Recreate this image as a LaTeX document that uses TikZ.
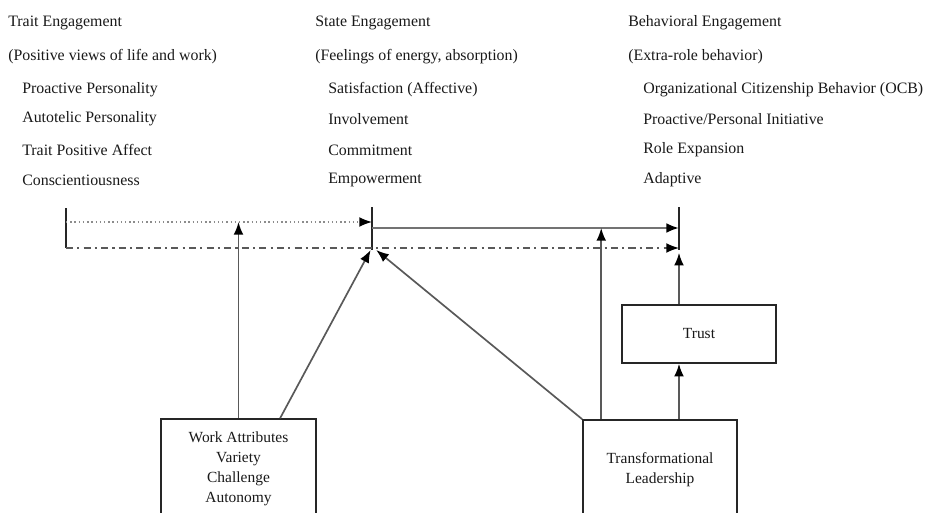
\documentclass[tikz,border=0pt]{standalone}
\usepackage{fontspec}
\setmainfont{Liberation Serif}
\usetikzlibrary{arrows.meta}

\tikzset{
	lbl/.style={anchor=west, inner sep=0pt, text=black!90, font=\fontsize{11.3}{13}\selectfont},
	box/.style={draw=black!85, line width=1.1pt, align=center, text=black!90, font=\fontsize{11}{14.2}\selectfont},
	arr/.style={-{Latex[length=9pt,width=7pt,color=black]}, line width=1.2pt, draw=black!65},
	bar/.style={line width=1.2pt, draw=black!85},
}

\begin{document}
\begin{tikzpicture}[x=0.025cm, y=-0.025cm]
	\useasboundingbox (0,0) rectangle (928,513);
	\clip (0,0) rectangle (928,513);

	% headings and lists
	\node[lbl] (te) at (8,23) {Trait Engagement};
	\node[lbl] (ted) at (8,57) {(Positive views of life and work)};
	\node[lbl] (te1) at (22,90) {Proactive Personality};
	\node[lbl] (te2) at (22,119) {Autotelic Personality};
	\node[lbl] (te3) at (22,150) {Trait Positive Affect};
	\node[lbl] (te4) at (22,180) {Conscientiousness};

	\node[lbl] (se) at (315,23) {State Engagement};
	\node[lbl] (sed) at (315,57) {(Feelings of energy, absorption)};
	\node[lbl] (se1) at (328,90) {Satisfaction (Affective)};
	\node[lbl] (se2) at (328,119) {Involvement};
	\node[lbl] (se3) at (328,150) {Commitment};
	\node[lbl] (se4) at (328,180) {Empowerment};

	\node[lbl] (be) at (628,23) {Behavioral Engagement};
	\node[lbl] (bed) at (628,57) {(Extra-role behavior)};
	\node[lbl] (be1) at (643,90) {Organizational Citizenship Behavior (OCB)};
	\node[lbl] (be2) at (643,119) {Proactive/Personal Initiative};
	\node[lbl] (be3) at (643,150) {Role Expansion};
	\node[lbl] (be4) at (643,180) {Adaptive};

	% boxes
	\node[box, minimum width=3.875cm, minimum height=2.5cm] (work) at (238.5,469)
		{Work Attributes\\Variety\\Challenge\\Autonomy};
	\node[box, minimum width=3.85cm, minimum height=2.5cm] (lead) at (660,470)
		{Transformational\\Leadership};
	\node[box, minimum width=3.85cm, minimum height=1.45cm] (trust) at (699,334) {Trust};

	% markers
	\coordinate (tt) at (66,208);
	\coordinate (tb) at (66,248);
	\coordinate (st) at (372,207);
	\coordinate (sb) at (372,250);
	\coordinate (bt) at (679,207);
	\coordinate (bb) at (679,250);
	\coordinate (dl) at (66,222);
	\coordinate (sl) at (372,228);

	\draw[bar] (tt) -- (tb);
	\draw[bar] (st) -- (sb);
	\draw[bar] (bt) -- (bb);

	% engagement links
	\draw[arr, line width=1pt, draw=black!45, dotted] (dl) -- (st |- dl);
	\draw[arr, line width=1.6pt, draw=black!55] (sl) -- (bt |- sl);
	\draw[arr, line width=1pt, dash pattern=on 5pt off 3pt on 1.5pt off 3pt] (tb) -- (bt |- tb);

	% antecedents
	\draw[arr] (work.north) -- (work.north |- dl);
	\draw[arr] ([xshift=1.04cm]work.north) -- ([xshift=-1pt]sb);
	\draw[arr] (lead.north west) -- ([xshift=3pt]sb);
	\draw[arr] ([xshift=0.475cm]lead.north west) -- ([xshift=0.475cm]lead.north west |- sl);
	\draw[arr] (lead.north -| bb) -- (trust.south -| bb);
	\draw[arr] (trust.north -| bb) -- ([yshift=-2pt]bb);
\end{tikzpicture}
\end{document}
